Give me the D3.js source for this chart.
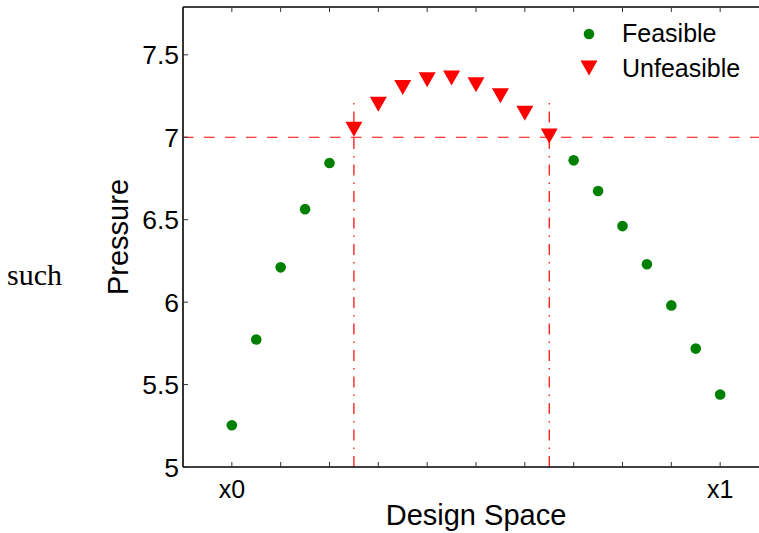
<!DOCTYPE html>
<html>
<head>
<meta charset="utf-8">
<script src="https://cdn.jsdelivr.net/npm/d3@7"></script>
<style>
  body { margin: 0; background: #fff; }
  svg { display: block; }
</style>
</head>
<body>
<svg id="chart" width="759" height="533"></svg>
<script>
// design points along the x0 -> x1 line, and the pressure at each
const designX = [0, 0.05, 0.1, 0.15, 0.2, 0.25, 0.3, 0.35, 0.4, 0.45, 0.5,
                 0.55, 0.6, 0.65, 0.7, 0.75, 0.8, 0.85, 0.9, 0.95, 1];
const pressure = [5.253, 5.773, 6.211, 6.564, 6.844, 7.048, 7.200, 7.301, 7.349, 7.359, 7.319,
                  7.252, 7.145, 7.008, 6.860, 6.674, 6.461, 6.230, 5.980, 5.718, 5.440];
const pressureLimit = 7.0;
const boundaryX = [0.25, 0.65];
const boundaryTop = 7.22;
const yTicks = [5, 5.5, 6, 6.5, 7, 7.5];
const xTicks = [0, 0.1, 0.2, 0.3, 0.4, 0.5, 0.6, 0.7, 0.8, 0.9, 1];
const xTickLabels = {0: "x0", 1: "x1"};

const svg = d3.select("#chart");
const mLeft = 183, mTop = 7, mBottom = 467, mRight = 769;

const x = d3.scaleLinear().domain([-0.1, 1.1]).range([mLeft, mRight]);
const y = d3.scaleLinear().domain([5, 7.79]).range([mBottom, mTop]);

const pts = designX.map((d, i) => ({x: d, p: pressure[i]}));
const feasible = pts.filter(d => d.p < pressureLimit);
const unfeasible = pts.filter(d => d.p >= pressureLimit);

// constraint lines
svg.append("line")
  .attr("x1", mLeft).attr("x2", mRight)
  .attr("y1", y(pressureLimit)).attr("y2", y(pressureLimit))
  .attr("stroke", "#ff0000").attr("stroke-width", 1)
  .attr("stroke-dasharray", "10.5,10.5");

svg.selectAll("line.bound")
  .data(boundaryX)
  .join("line")
  .attr("class", "bound")
  .attr("x1", d => x(d)).attr("x2", d => x(d))
  .attr("y1", mBottom).attr("y2", y(boundaryTop))
  .attr("stroke", "#ff0000").attr("stroke-width", 1.2)
  .attr("stroke-dasharray", "11,7,1.5,7");

// markers
svg.selectAll("circle.feas")
  .data(feasible)
  .join("circle")
  .attr("class", "feas")
  .attr("cx", d => x(d.x)).attr("cy", d => y(d.p))
  .attr("r", 5.3)
  .attr("fill", "#008000");

const tri = "M0,7.5L-8.5,-7.5L8.5,-7.5Z";
svg.selectAll("path.unfeas")
  .data(unfeasible)
  .join("path")
  .attr("class", "unfeas")
  .attr("d", tri)
  .attr("transform", d => `translate(${x(d.x)},${y(d.p)})`)
  .attr("fill", "#ff0000");

// frame
const frame = svg.append("g").attr("stroke", "#000").attr("fill", "none");
frame.append("line").attr("x1", mLeft).attr("x2", mLeft).attr("y1", mTop).attr("y2", mBottom).attr("stroke-width", 1.6);
frame.append("line").attr("x1", mLeft).attr("x2", mRight).attr("y1", mBottom).attr("y2", mBottom).attr("stroke-width", 1.6);
frame.append("line").attr("x1", mLeft).attr("x2", mRight).attr("y1", mTop).attr("y2", mTop).attr("stroke-width", 1.6);

// ticks (pointing inward, matplotlib style)
const tk = svg.append("g").attr("stroke", "#333").attr("stroke-width", 1);
xTicks.forEach(t => {
  tk.append("line").attr("x1", x(t)).attr("x2", x(t)).attr("y1", mBottom).attr("y2", mBottom - 5);
  tk.append("line").attr("x1", x(t)).attr("x2", x(t)).attr("y1", mTop).attr("y2", mTop + 5);
});
yTicks.forEach(t => {
  tk.append("line").attr("x1", mLeft).attr("x2", mLeft + 5).attr("y1", y(t)).attr("y2", y(t));
});

const font = "'Liberation Sans', Arial, Helvetica, sans-serif";

svg.selectAll("text.ytick")
  .data(yTicks)
  .join("text")
  .attr("class", "ytick")
  .attr("x", mLeft - 4).attr("y", d => y(d))
  .attr("dy", "0.36em")
  .attr("text-anchor", "end")
  .attr("font-family", font).attr("font-size", 26.5)
  .text(d => d3.format("")(d));

svg.selectAll("text.xtick")
  .data(xTicks.filter(t => xTickLabels[t]))
  .join("text")
  .attr("class", "xtick")
  .attr("x", d => x(d)).attr("y", 498)
  .attr("text-anchor", "middle")
  .attr("font-family", font).attr("font-size", 25)
  .text(d => xTickLabels[d]);

svg.append("text")
  .attr("x", 476).attr("y", 525)
  .attr("text-anchor", "middle")
  .attr("font-family", font).attr("font-size", 29)
  .text("Design Space");

svg.append("text")
  .attr("transform", "translate(128,237) rotate(-90)")
  .attr("text-anchor", "middle")
  .attr("font-family", font).attr("font-size", 29)
  .text("Pressure");

svg.append("text")
  .attr("x", 7).attr("y", 285)
  .attr("font-family", "'Liberation Serif', 'Times New Roman', serif").attr("font-size", 30)
  .text("such");

// legend
const lg = svg.append("g");
lg.append("circle").attr("cx", 589).attr("cy", 34).attr("r", 5.3).attr("fill", "#008000");
lg.append("path").attr("d", tri).attr("transform", "translate(589,68)").attr("fill", "#ff0000");
lg.append("text").attr("x", 622).attr("y", 42).attr("font-family", font).attr("font-size", 25).text("Feasible");
lg.append("text").attr("x", 622).attr("y", 77).attr("font-family", font).attr("font-size", 25).text("Unfeasible");
</script>
</body>
</html>
